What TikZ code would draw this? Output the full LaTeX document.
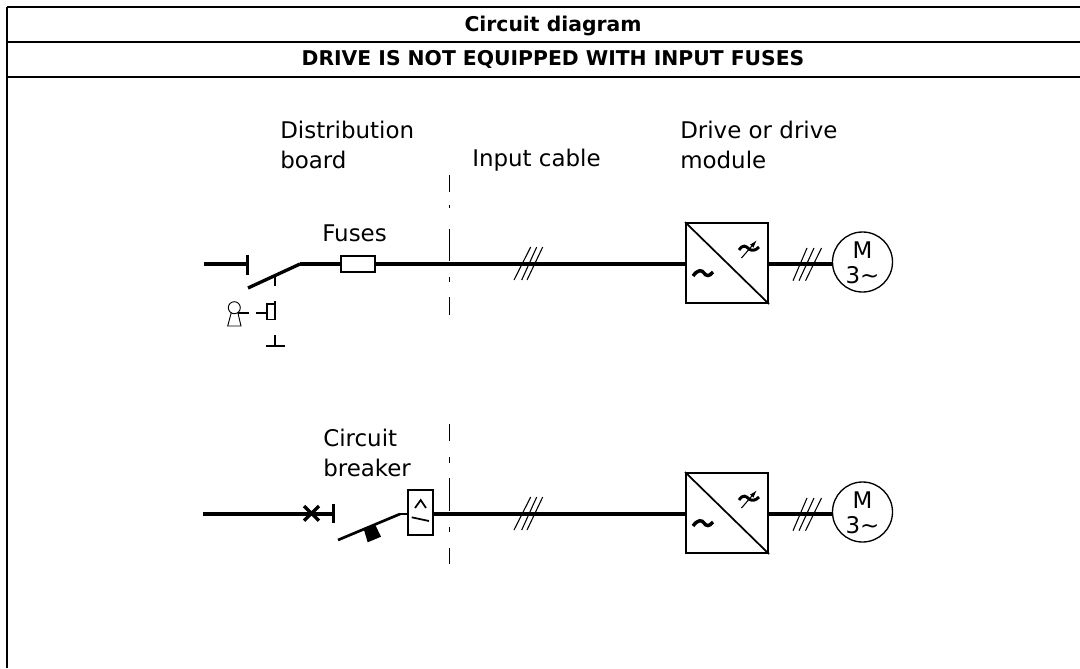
\documentclass[tikz,border=0pt]{standalone}
\usepackage{fontspec}
\usetikzlibrary{arrows.meta}
\setmainfont{DejaVu Sans}
\tikzset{
  frame/.style={line width=1.5pt},
  wire/.style={line width=2.5pt},
  thin wire/.style={line width=1.3pt},
  hair/.style={line width=0.8pt},
  dashline/.style={line width=0.9pt},
  lbl/.style={font=\fontsize{17.2}{22.5}\selectfont,anchor=west,align=left,inner sep=0pt},
  title/.style={font=\fontsize{15.25}{18}\selectfont\bfseries,inner sep=0pt}
}
\newcommand{\drivemotor}[2]{%
  \begin{scope}[shift={(0,#2)}]
    \node[draw,line width=1.5pt,inner sep=0pt,minimum width=61.5pt,minimum height=60pt] (dbox#1) at (727,263) {};
    \draw[thin wire] (dbox#1.north west) -- (dbox#1.south east);
    \draw[line width=2.6pt] (693,276) .. controls (698,269) and (702,270) .. (704,273) .. controls (706,276) and (709,277) .. (713,272);
    \draw[line width=2.2pt] (739,250) .. controls (743,244) and (746,246) .. (749,249) .. controls (752,251) and (755,251) .. (759,247);
    \coordinate (ta#1) at (741.5,258); \coordinate (tb#1) at (757,240);
    \draw[hair,-{Latex[length=6pt,width=3.5pt]}] (ta#1) -- (tb#1);
    \node[draw,circle,line width=1pt,minimum size=45pt,inner sep=0pt] (mot#1) at (862.5,262) {};
    \node[inner sep=0pt,font=\fontsize{17.2}{17.2}\selectfont] (mm#1) at (862.5,250) {M};
    \node[inner sep=0pt,font=\fontsize{17.2}{17.2}\selectfont] (mn#1) at (862.5,275) {3\textasciitilde};
    \coordinate (mw#1) at (832,264);
    \coordinate (dw#1) at (768,264);
    \draw[wire] (dw#1) -- (mw#1);
    \foreach \k/\a/\b in {1/793/807,2/799/814,3/805.5/821.5}{\draw[hair] (\a,280.7) -- (\b,248);}
    \foreach \k/\a/\b in {1/514/530.7,2/521.7/536.7,3/527/542.7}{\draw[hair] (\a,280) -- (\b,247);}
  \end{scope}}
\begin{document}
\begin{tikzpicture}[x=0.75pt,y=-0.75pt]
\useasboundingbox (0,0) rectangle (1080,668);
\fill[white] (0,0) rectangle (1080,668);
% table
\coordinate (tl) at (7,7); \coordinate (tr) at (1080,7);
\coordinate (ml) at (7,42); \coordinate (mr) at (1080,42);
\coordinate (bl) at (7,77); \coordinate (br) at (1080,77);
\coordinate (el) at (7,668);
\draw[frame] (tl) -- (tr) (ml) -- (mr) (bl) -- (br) (tl) -- (el);
\node[title] (t1) at (553,25.5) {Circuit diagram};
\node[title] (t2) at (553,59) {DRIVE IS NOT EQUIPPED WITH INPUT FUSES};
% labels
\node[lbl] (l1) at (280,144.7) {Distribution\\board};
\node[lbl] (l2) at (472,160.5) {Input cable};
\node[lbl] (l3) at (680,144.7) {Drive or drive\\module};
\node[lbl] (l4) at (322,233.5) {Fuses};
\node[lbl] (l5) at (323,453) {Circuit\\breaker};
% dashed separators
\draw[dashline] (449.5,175) -- (449.5,192) (449.5,205) -- (449.5,208) (449.5,229) -- (449.5,261) (449.5,277) -- (449.5,282) (449.5,297) -- (449.5,315);
\draw[dashline] (449.5,424) -- (449.5,441) (449.5,457) -- (449.5,463) (449.5,478) -- (449.5,511) (449.5,527) -- (449.5,532) (449.5,548) -- (449.5,564);
% drives
\drivemotor{A}{0}
\drivemotor{B}{250}
% upper line
\coordinate (a0) at (204,264); \coordinate (a1) at (247.7,264);
\coordinate (a1t) at (247.7,255); \coordinate (a1b) at (247.7,275);
\draw[wire] (a0) -- (a1);
\draw[wire] (a1t) -- (a1b);
\coordinate (sw0) at (248,288); \coordinate (sw1) at (300,264);
\draw[wire] (sw0) -- (sw1);
\node[draw,line width=1.4pt,minimum width=26pt,minimum height=12pt,inner sep=0pt] (fuse) at (358,264) {};
\draw[wire] (sw1) -- (fuse.west);
\draw[wire] (fuse.east) -- (dboxA.west |- fuse.east);
% key interlock
\draw[thin wire] (275,275) -- (275,286);
\draw[thin wire] (275,301) -- (275,319.5) -- (267,319.5) -- (267,304) -- (275,304);
\draw[thin wire] (275,335) -- (275,346);
\coordinate (g0) at (266,346); \coordinate (g1) at (285,346);
\draw[thin wire] (g0) -- (g1);
\draw[thin wire] (256,313) -- (267,313);
\draw[thin wire] (238,313) -- (249,313);
\node[draw,circle,line width=0.7pt,minimum size=9pt,inner sep=0pt] (kc) at (234.3,307.7) {};
\draw[line width=0.7pt] (231.3,312.5) -- (227.7,326) -- (241,326) -- (237.8,312.5);
% lower line
\coordinate (b0) at (203,514); \coordinate (b1) at (333.3,514);
\coordinate (bt) at (333.3,504); \coordinate (bb) at (333.3,522.7);
\draw[wire] (b0) -- (b1);
\draw[wire] (bt) -- (bb);
\draw[wire] (304,506) -- (319,520.7) (304,520.7) -- (319,506);
\coordinate (bs0) at (338,540); \coordinate (bs1) at (400,514);
\draw[line width=2pt] (bs0) -- (bs1);
\node[draw,line width=1.5pt,minimum width=19pt,minimum height=33.5pt,inner sep=0pt] (cb) at (420.7,512.3) {};
\draw[line width=2pt] (bs1) -- (cb.west |- bs1);
\draw[wire] (cb.east |- bs1) -- (dboxB.west |- bs1);
\draw[thin wire] (415,508) -- (420.7,500) -- (426,508);
\draw[thin wire] (411.7,517.3) -- (429,521);
\fill[black] (364,530) -- (375,524.3) -- (381,536.7) -- (367.7,542.3) -- cycle;
\end{tikzpicture}
\end{document}
